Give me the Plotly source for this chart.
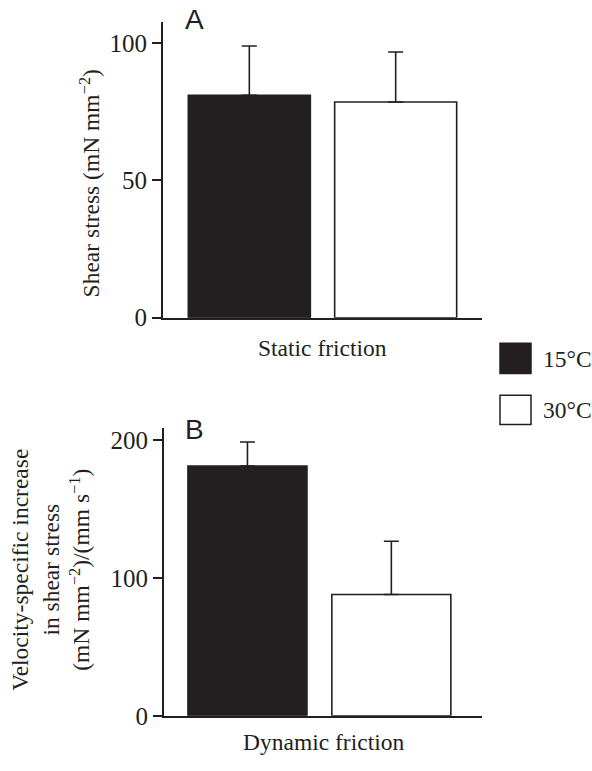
import plotly.graph_objects as go

# ---- data ----
temps = ["15°C", "30°C"]
static_means = [81.0, 78.6]
static_err = [18.0, 18.2]
dynamic_means = [181.0, 88.0]
dynamic_err = [17.5, 38.6]
static_ticks = [0, 50, 100]
dynamic_ticks = [0, 100, 200]

W, H = 592, 771
INK = "#231f20"
bar_colors = [INK, "#ffffff"]
SERIF = "Liberation Serif, Times New Roman, serif"
SANS = "Liberation Sans, Arial, sans-serif"
FS = 23.5
TFS = 25


def px(x):
    return x / W


def py(y):
    return 1 - y / H


fig = go.Figure()

fig.add_trace(go.Bar(
    x=[0, 1], y=static_means, width=0.834,
    marker=dict(color=bar_colors, line=dict(color=INK, width=1.6)),
    error_y=dict(type="data", symmetric=False, array=static_err,
                 arrayminus=[0, 0], color=INK, thickness=1.6, width=7.5),
    xaxis="x", yaxis="y", showlegend=False, name="Static friction"))

fig.add_trace(go.Bar(
    x=[0, 1], y=dynamic_means, width=0.827,
    marker=dict(color=bar_colors, line=dict(color=INK, width=1.6)),
    error_y=dict(type="data", symmetric=False, array=dynamic_err,
                 arrayminus=[0, 0], color=INK, thickness=1.6, width=7.5),
    xaxis="x2", yaxis="y2", showlegend=False, name="Dynamic friction"))

axis_common = dict(showline=True, linecolor=INK, linewidth=1.8,
                   showgrid=False, zeroline=False)

fig.update_layout(
    width=W, height=H,
    margin=dict(l=0, r=0, t=0, b=0),
    paper_bgcolor="white", plot_bgcolor="white",
    font=dict(family=SERIF, size=FS, color=INK),
    xaxis=dict(domain=[px(163), px(482)], range=[-0.59, 1.59],
               showticklabels=False, ticks="", anchor="y", **axis_common),
    yaxis=dict(domain=[py(323), py(21)], range=[0, 107.9],
               tickvals=static_ticks, ticks="outside", ticklen=9,
               tickwidth=1.8, tickcolor=INK, anchor="x",
               tickfont=dict(family=SERIF, size=TFS, color=INK),
               **axis_common),
    xaxis2=dict(domain=[px(164), px(482)], range=[-0.58, 1.63],
                showticklabels=False, ticks="", anchor="y2", **axis_common),
    yaxis2=dict(domain=[py(729), py(435)], range=[0, 209],
                tickvals=dynamic_ticks, ticks="outside", ticklen=9,
                tickwidth=1.8, tickcolor=INK, anchor="x2",
                tickfont=dict(family=SERIF, size=TFS, color=INK),
                **axis_common),
)

ann = []
# panel letters
ann.append(dict(text="A", x=px(183), y=py(19), xanchor="left", yanchor="middle",
                font=dict(family=SANS, size=28, color=INK)))
ann.append(dict(text="B", x=px(183), y=py(437), xanchor="left", yanchor="middle",
                font=dict(family=SANS, size=28, color=INK)))
# x titles
ann.append(dict(text="Static friction", x=px(322), y=py(354), xanchor="center",
                yanchor="middle"))
ann.append(dict(text="Dynamic friction", x=px(323), y=py(756), xanchor="center",
                yanchor="middle"))
# y titles
ann.append(dict(text="Shear stress (mN mm<sup>−2</sup>)", x=px(90), y=py(186),
                textangle=-90, xanchor="center", yanchor="middle"))
ann.append(dict(text="Velocity-specific increase<br>in shear stress<br>"
                     "(mN mm<sup>−2</sup>)/(mm s<sup>−1</sup>)",
                x=px(51), y=py(580), textangle=-90, xanchor="center",
                yanchor="middle"))
# legend labels
ann.append(dict(text=temps[0], x=px(541), y=py(365), xanchor="left", yanchor="middle"))
ann.append(dict(text=temps[1], x=px(541), y=py(417), xanchor="left", yanchor="middle"))
for a in ann:
    a.update(xref="paper", yref="paper", showarrow=False)
fig.update_layout(annotations=ann)

# legend swatches
fig.add_shape(type="rect", xref="paper", yref="paper",
              x0=px(500), x1=px(531), y0=py(380), y1=py(349),
              fillcolor=bar_colors[0], line=dict(color=INK, width=1.5))
fig.add_shape(type="rect", xref="paper", yref="paper",
              x0=px(500), x1=px(531), y0=py(432), y1=py(402),
              fillcolor=bar_colors[1], line=dict(color=INK, width=1.5))

fig.write_html("out.html")
